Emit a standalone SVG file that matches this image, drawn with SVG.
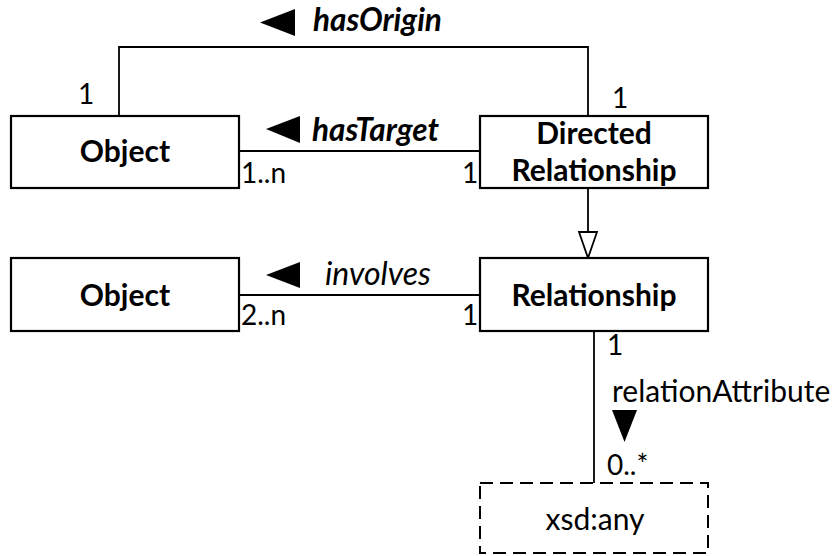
<svg xmlns="http://www.w3.org/2000/svg" width="835" height="556" viewBox="0 0 835 556">
<style>
.box{fill:#fff;stroke:#000;stroke-width:2.2}
.dbox{fill:#fff;stroke:#000;stroke-width:2;stroke-dasharray:13 7}
.ln{fill:none;stroke:#000;stroke-width:1.8}
.t{font-family:Lato,"Liberation Sans",sans-serif;font-size:30px;fill:#000}
.n{font-size:28px}
.b{font-weight:bold;text-anchor:middle}
.bi{font-weight:bold;font-style:italic;font-size:31.5px}
.it{font-style:italic;font-size:32px}
.mid{text-anchor:middle}
</style>
<rect width="835" height="556" fill="#fff"/>
<g id="connectors">
<polyline class="ln" points="119,116 119,47 588,47 588,116"/>
<line class="ln" x1="239" y1="151" x2="480" y2="151"/>
<line class="ln" x1="239" y1="295" x2="480" y2="295"/>
<line class="ln" x1="588" y1="188" x2="588" y2="232"/>
<polygon points="579,232 597,232 588,258" fill="#fff" stroke="#000" stroke-width="1.8"/>
<line class="ln" x1="594" y1="331" x2="594" y2="483"/>
<polygon points="260,22.5 295,9 295,36" fill="#000"/>
<polygon points="266,129 300,116 300,143" fill="#000"/>
<polygon points="266,275 300,262 300,288" fill="#000"/>
<polygon points="612,410 637,410 624.5,442" fill="#000"/>
<text class="t bi" x="313" y="31">hasOrigin</text>
<text class="t bi" x="312" y="141">hasTarget</text>
<text class="t it" x="325" y="285">involves</text>
<text class="t" x="612" y="402">relationAttribute</text>
<text class="t n" x="78" y="104">1</text>
<text class="t n" x="612" y="108">1</text>
<text class="t n" x="241" y="183">1..n</text>
<text class="t n" x="462" y="183">1</text>
<text class="t n" x="241" y="325">2..n</text>
<text class="t n" x="462" y="325">1</text>
<text class="t n" x="607" y="355">1</text>
<text class="t n" x="607" y="475">0..*</text>
</g>
<g id="object1">
<rect class="box" x="11" y="116" width="228" height="72"/>
<text class="t b" x="125" y="162">Object</text>
</g>
<g id="directedRelationship">
<rect class="box" x="480" y="116" width="228" height="72"/>
<text class="t b" x="594" y="144">Directed</text>
<text class="t b" x="594" y="181">Relationship</text>
</g>
<g id="object2">
<rect class="box" x="11" y="258" width="228" height="73"/>
<text class="t b" x="125" y="306">Object</text>
</g>
<g id="relationship">
<rect class="box" x="480" y="258" width="228" height="73"/>
<text class="t b" x="594" y="306">Relationship</text>
</g>
<g id="xsdany">
<rect class="dbox" x="480" y="483" width="228" height="70"/>
<text class="t mid" x="595" y="530">xsd:any</text>
</g>
</svg>
